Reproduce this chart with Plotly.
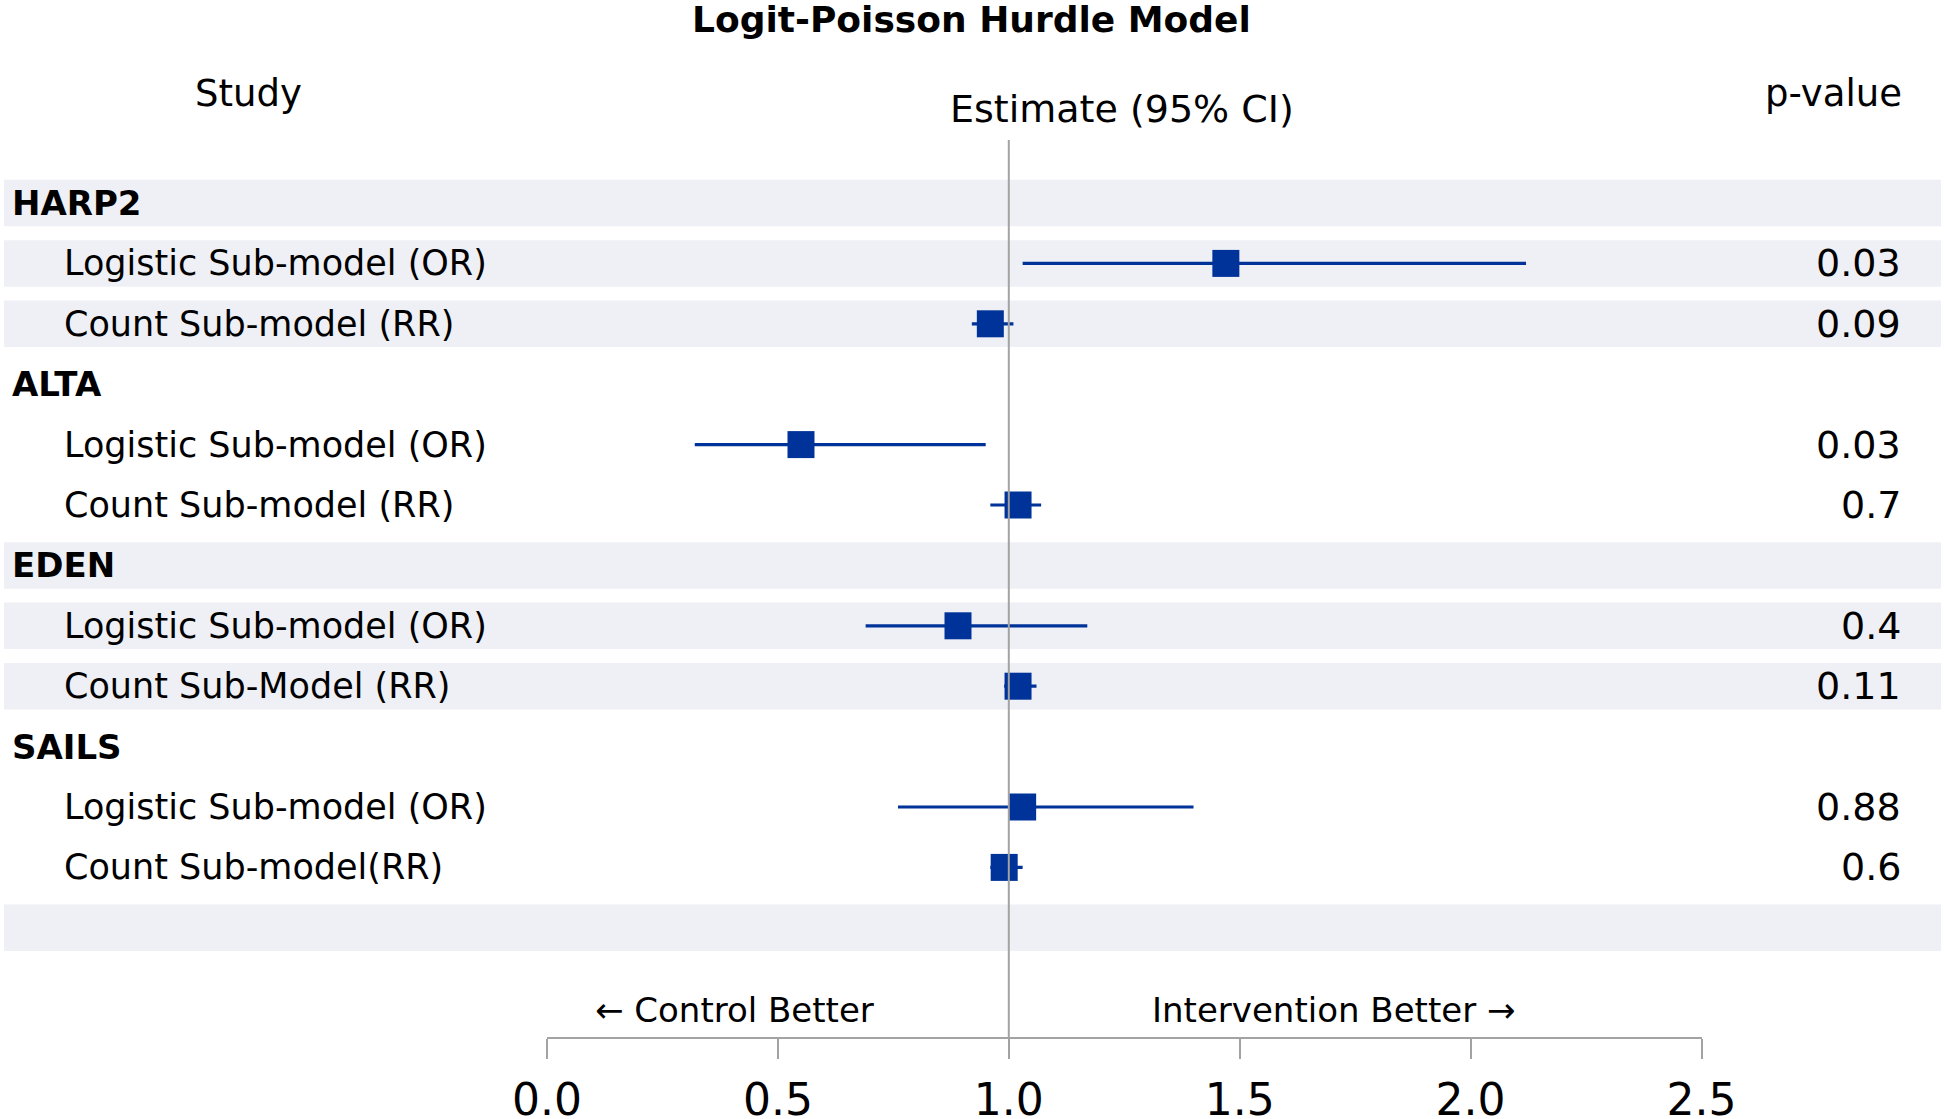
import plotly.graph_objects as go

# ---------------- data ----------------
studies = ["HARP2", "ALTA", "EDEN", "SAILS"]
sub_labels = [
    "Logistic Sub-model (OR)", "Count Sub-model (RR)",
    "Logistic Sub-model (OR)", "Count Sub-model (RR)",
    "Logistic Sub-model (OR)", "Count Sub-Model (RR)",
    "Logistic Sub-model (OR)", "Count Sub-model(RR)",
]
estimates = [1.47, 0.96, 0.55, 1.02, 0.89, 1.02, 1.03, 0.99]
lower_ci = [1.03, 0.92, 0.32, 0.96, 0.69, 0.99, 0.76, 0.96]
upper_ci = [2.12, 1.01, 0.95, 1.07, 1.17, 1.06, 1.40, 1.03]
p_values = ["0.03", "0.09", "0.03", "0.7", "0.4", "0.11", "0.88", "0.6"]
tick_vals = [0.0, 0.5, 1.0, 1.5, 2.0, 2.5]
tick_text = ["0.0", "0.5", "1.0", "1.5", "2.0", "2.5"]

# ---------------- layout constants ----------------
W, H = 1944, 1119
FONT = "DejaVu Sans"
BLUE = "#003399"
GREY = "#A3A3A3"
BAND = "#EFF0F5"

ROW0_PX = 203.0
PITCH = 60.4
AXIS_PX = 1037.0

def py(px):
    return 1 - px / H

group_rows = []
item_rows = []
r = 0
for s in studies:
    group_rows.append(r)
    item_rows.extend([r + 1, r + 2])
    r += 3
blank_row = r
band_rows = [0, 1, 2, 6, 7, 8, blank_row]

y_top = -ROW0_PX / PITCH
y_bot = (AXIS_PX - ROW0_PX) / PITCH

fig = go.Figure()

fig.add_trace(go.Scatter(
    x=estimates, y=item_rows, mode="markers",
    marker=dict(symbol="square", size=27, color=BLUE),
    error_x=dict(type="data", symmetric=False,
                 array=[u - e for u, e in zip(upper_ci, estimates)],
                 arrayminus=[e - l for e, l in zip(estimates, lower_ci)],
                 color=BLUE, thickness=3.2, width=0),
    showlegend=False, hoverinfo="skip",
))

shapes = []
for b in band_rows:
    shapes.append(dict(type="rect", xref="paper", yref="y",
                       x0=4 / W, x1=1941 / W, y0=b - 0.385, y1=b + 0.385,
                       fillcolor=BAND, line=dict(width=0), layer="below"))
shapes.append(dict(type="line", xref="x", yref="y", x0=1, x1=1,
                   y0=(140 - ROW0_PX) / PITCH, y1=y_bot,
                   line=dict(color=GREY, width=2), layer="above"))

ann = []
ann.append(dict(text="<b>Logit-Poisson Hurdle Model</b>", x=971 / W, y=py(19),
                xanchor="center", yanchor="middle", font=dict(size=36)))
ann.append(dict(text="Study", x=248 / W, y=py(94), xanchor="center", yanchor="middle",
                font=dict(size=37)))
ann.append(dict(text="Estimate (95% CI)", x=1122 / W, y=py(109), xanchor="center",
                yanchor="middle", font=dict(size=38)))
ann.append(dict(text="p-value", x=1904 / W, y=py(94), xanchor="right", yanchor="middle",
                font=dict(size=37)))
for g, s in zip(group_rows, studies):
    ann.append(dict(text="<b>" + s + "</b>", x=10 / W, y=g, yref="y", xanchor="left",
                    yanchor="middle", font=dict(size=34)))
for rr, lab, p in zip(item_rows, sub_labels, p_values):
    ann.append(dict(text=lab, x=62 / W, y=rr, yref="y", xanchor="left",
                    yanchor="middle", font=dict(size=35)))
    ann.append(dict(text=p, x=1903 / W, y=rr, yref="y", xanchor="right",
                    yanchor="middle", font=dict(size=38)))
ann.append(dict(text="\u2190 Control Better", x=876 / W, y=py(1010), xanchor="right",
                yanchor="middle", font=dict(size=34)))
ann.append(dict(text="Intervention Better \u2192", x=1150 / W, y=py(1010), xanchor="left",
                yanchor="middle", font=dict(size=34)))
for a in ann:
    a.setdefault("xref", "paper")
    a.setdefault("yref", "paper")
    a["showarrow"] = False
    a["font"]["color"] = "black"
    a["font"]["family"] = FONT

fig.update_layout(
    width=W, height=H, autosize=False,
    margin=dict(l=0, r=0, t=0, b=0, pad=0),
    paper_bgcolor="white", plot_bgcolor="rgba(0,0,0,0)",
    font=dict(family=FONT, color="black"),
    xaxis=dict(domain=[547 / W, 1701.5 / W], range=[0, 2.5], tickvals=tick_vals,
               ticktext=tick_text, showline=True, linecolor=GREY, linewidth=2,
               ticks="outside", ticklen=20, tickwidth=2, tickcolor=GREY,
               showgrid=False, zeroline=False, tickfont=dict(size=44, family=FONT),
               ticklabelstandoff=3, automargin=False, fixedrange=True),
    yaxis=dict(domain=[py(AXIS_PX), 1], range=[y_bot, y_top], visible=False,
               showgrid=False, zeroline=False, automargin=False, fixedrange=True),
    shapes=shapes, annotations=ann,
)

fig.write_html("out.html", config={"displayModeBar": False},
               post_script="document.body.style.margin='0';")
